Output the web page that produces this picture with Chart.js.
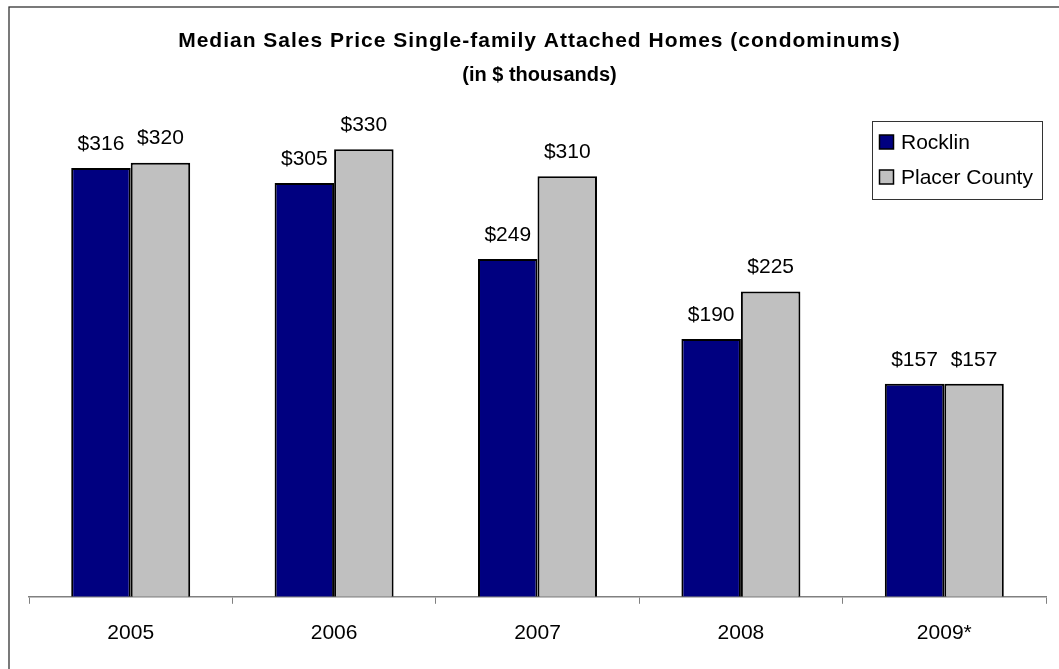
<!DOCTYPE html>
<html>
<head>
<meta charset="utf-8">
<script src="https://cdn.jsdelivr.net/npm/chart.js@4.4.1/dist/chart.umd.min.js"></script>
<style>
  html, body { margin: 0; padding: 0; background: #fff; }
  #wrap { position: relative; width: 1059px; height: 669px; overflow: hidden; }
  canvas { display: block; }
</style>
</head>
<body>
<div id="wrap"><canvas id="c" width="1059" height="669"></canvas></div>
<script>
const categories = ['2005', '2006', '2007', '2008', '2009*'];
const rocklinValues = [316, 305, 249, 190, 157];
const placerValues = [320, 330, 310, 225, 157];
const seriesNames = ['Rocklin', 'Placer County'];
const titleLines = ['Median Sales Price Single-family Attached Homes (condominums)', '(in $ thousands)'];

const FONT = "'Liberation Sans', Arial, sans-serif";

const framePlugin = {
  id: 'frame',
  beforeDraw(chart) {
    const ctx = chart.ctx;
    ctx.save();
    ctx.fillStyle = '#fff';
    ctx.fillRect(0, 0, chart.width, chart.height);
    ctx.strokeStyle = '#333';
    ctx.lineWidth = 1.3;
    ctx.strokeRect(9, 7, 2000, 2000);
    ctx.restore();
  }
};

const titlePlugin = {
  id: 'twoLineTitle',
  afterDraw(chart) {
    const ctx = chart.ctx;
    const cx = (chart.chartArea.left + chart.chartArea.right) / 2 + 2;
    ctx.save();
    ctx.fillStyle = '#000';
    ctx.textAlign = 'center';
    ctx.textBaseline = 'middle';
    ctx.font = 'bold 21px ' + FONT;
    if ('letterSpacing' in ctx) ctx.letterSpacing = '1px';
    ctx.fillText(titleLines[0], cx, 41);
    if ('letterSpacing' in ctx) ctx.letterSpacing = '0px';
    ctx.font = 'bold 20px ' + FONT;
    ctx.fillText(titleLines[1], cx, 75);
    ctx.restore();
  }
};

const valueLabels = {
  id: 'valueLabels',
  afterDatasetsDraw(chart) {
    const ctx = chart.ctx;
    ctx.save();
    ctx.font = '21px ' + FONT;
    ctx.fillStyle = '#000';
    ctx.textAlign = 'center';
    ctx.textBaseline = 'middle';
    chart.data.datasets.forEach((ds, i) => {
      const meta = chart.getDatasetMeta(i);
      meta.data.forEach((el, j) => {
        ctx.fillText('$' + ds.data[j], el.x, el.y - 24);
      });
    });
    ctx.restore();
  }
};

const boxLegend = {
  id: 'boxLegend',
  afterDraw(chart) {
    const ctx = chart.ctx;
    ctx.save();
    const bx = 872.5, by = 121.5, bw = 170, bh = 78;
    ctx.fillStyle = '#fff';
    ctx.fillRect(bx, by, bw, bh);
    ctx.strokeStyle = '#333';
    ctx.lineWidth = 1;
    ctx.strokeRect(bx, by, bw, bh);
    ctx.font = '21px ' + FONT;
    ctx.textBaseline = 'middle';
    ctx.textAlign = 'left';
    chart.data.datasets.forEach((ds, i) => {
      const cy = 142 + i * 35;
      ctx.fillStyle = ds.backgroundColor;
      ctx.fillRect(879.5, cy - 7, 14, 14);
      ctx.strokeStyle = '#000';
      ctx.lineWidth = 1.5;
      ctx.strokeRect(879.5, cy - 7, 14, 14);
      ctx.fillStyle = '#000';
      ctx.fillText(ds.label, 901, cy + 1);
    });
    ctx.restore();
  }
};

new Chart(document.getElementById('c'), {
  type: 'bar',
  data: {
    labels: categories,
    datasets: [
      { label: seriesNames[0], data: rocklinValues, backgroundColor: '#000080', borderColor: '#000', borderWidth: 2 },
      { label: seriesNames[1], data: placerValues, backgroundColor: '#C0C0C0', borderColor: '#000', borderWidth: 2 }
    ]
  },
  options: {
    responsive: false,
    animation: false,
    devicePixelRatio: 1,
    layout: { padding: { left: 29, right: 13, top: 122, bottom: 6 } },
    datasets: { bar: { categoryPercentage: 0.585, barPercentage: 1.0 } },
    plugins: {
      legend: { display: false },
      tooltip: { enabled: false },
      title: { display: false }
    },
    scales: {
      x: {
        offset: true,
        grid: { offset: true, drawOnChartArea: false, drawTicks: true, tickLength: 7, color: '#808080', lineWidth: 1 },
        border: { display: true, color: '#808080', width: 1.5 },
        ticks: { color: '#000', font: { family: FONT, size: 21 }, padding: 17, maxRotation: 0 }
      },
      y: {
        display: false,
        min: 0,
        max: 350
      }
    }
  },
  plugins: [framePlugin, valueLabels, boxLegend, titlePlugin]
});
</script>
</body>
</html>
